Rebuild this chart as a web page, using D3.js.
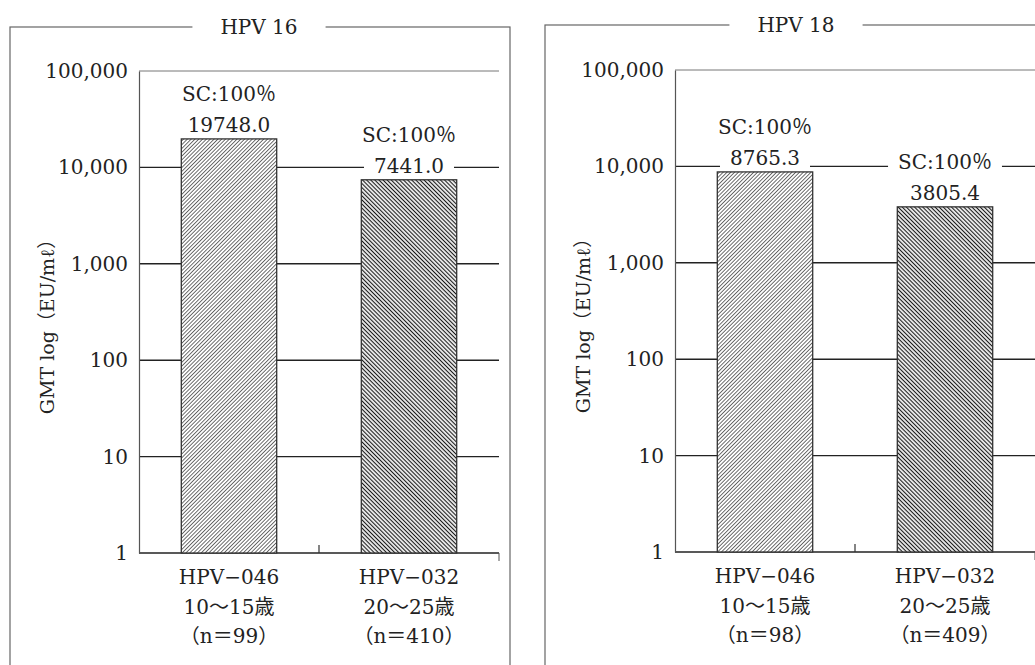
<!DOCTYPE html>
<html>
<head>
<meta charset="utf-8">
<script src="https://cdn.jsdelivr.net/npm/d3@7"></script>
<style>
body { margin: 0; background: #fff; }
text { font-family: "DejaVu Serif", "Liberation Serif", "Noto Sans CJK JP", serif; fill: #222; }
</style>
</head>
<body>
<svg id="chart" width="1035" height="665"></svg>
<script>
// Gegevens uit de figuur
const panelTitles = ['HPV 16', 'HPV 18'];
const studies = ['HPV−046', 'HPV−032'];
const ageGroups = ['10～15歳', '20～25歳'];
const nHPV16 = [99, 410];
const nHPV18 = [98, 409];
const gmtHPV16 = [19748.0, 7441.0];
const gmtHPV18 = [8765.3, 3805.4];
const scHPV16 = [100, 100];
const scHPV18 = [100, 100];
const yTicks = [1, 10, 100, 1000, 10000, 100000];
const yLabel = 'GMT log（EU/mℓ）';

const svg = d3.select('#chart');

// Arceringspatronen voor de staven (gedraaide verticale lijnen)
const defs = svg.append('defs');
const createHatch = (id, angle, spacing, color, width) => {
    const p = defs.append('pattern')
        .attr('id', id)
        .attr('patternUnits', 'userSpaceOnUse')
        .attr('width', spacing)
        .attr('height', 10)
        .attr('patternTransform', `rotate(${angle})`);
    p.append('rect').attr('width', spacing).attr('height', 10).attr('fill', '#fff');
    p.append('line')
        .attr('x1', spacing / 2).attr('x2', spacing / 2)
        .attr('y1', 0).attr('y2', 10)
        .attr('stroke', color).attr('stroke-width', width);
};
createHatch('hatchA', 45, 2.7, '#555', 0.9);
createHatch('hatchB', -45, 2.9, '#1a1a1a', 1.2);

// Deze functie tekent een volledig paneel (kader, as, staven en labels)
const drawPanel = (opt) => {
    const g = svg.append('g');

    // Kader met titel
    g.append('rect')
        .attr('x', opt.frameLeft).attr('y', opt.frameTop)
        .attr('width', opt.frameRight - opt.frameLeft).attr('height', 700)
        .attr('fill', 'none').attr('stroke', '#666').attr('stroke-width', 1.2);
    const title = g.append('text')
        .attr('x', opt.titleX).attr('y', opt.frameTop)
        .attr('dy', '0.35em')
        .attr('text-anchor', 'middle')
        .attr('font-size', 20)
        .text(opt.title);
    const tb = title.node().getBBox();
    g.insert('rect', 'text')
        .attr('x', tb.x - 28).attr('y', opt.frameTop - 3)
        .attr('width', tb.width + 56).attr('height', 6)
        .attr('fill', '#fff');

    const y = d3.scaleLog().domain([1, 100000]).range([opt.plotBottom, opt.plotTop]);
    const x = d3.scaleBand().domain(studies)
        .range([opt.plotLeft, opt.plotRight])
        .paddingInner(0.47).paddingOuter(0.235);

    // Rasterlijnen
    g.selectAll('.grid')
        .data(yTicks)
        .join('line')
        .attr('x1', opt.plotLeft).attr('x2', opt.plotRight)
        .attr('y1', d => y(d)).attr('y2', d => y(d))
        .attr('stroke', d => d === 100000 ? '#777' : '#222')
        .attr('stroke-width', d => d === 100000 ? 1 : 1.4);

    // Y-as
    const axis = d3.axisLeft(y)
        .tickValues(yTicks)
        .tickFormat(d3.format(','))
        .tickSize(0)
        .tickPadding(11);
    const ag = g.append('g')
        .attr('transform', `translate(${opt.plotLeft},0)`)
        .call(axis);
    ag.select('.domain').attr('stroke', '#555').attr('stroke-width', 1.2);
    ag.selectAll('text')
        .attr('font-size', 20)
        .attr('font-family', '"DejaVu Serif", serif')
        .attr('fill', '#222');

    // Kleine streepjes op de x-as
    const mid = (opt.plotLeft + opt.plotRight) / 2;
    g.append('line')
        .attr('x1', mid).attr('x2', mid)
        .attr('y1', opt.plotBottom - 8).attr('y2', opt.plotBottom)
        .attr('stroke', '#333').attr('stroke-width', 1.2);
    g.append('line')
        .attr('x1', opt.plotRight).attr('x2', opt.plotRight)
        .attr('y1', opt.plotBottom).attr('y2', opt.plotBottom + 8)
        .attr('stroke', '#555').attr('stroke-width', 1);

    // As-titel
    g.append('text')
        .attr('transform', `translate(${opt.yLabelX},${(opt.plotTop + opt.plotBottom) / 2 + 10}) rotate(-90)`)
        .attr('text-anchor', 'middle')
        .attr('dy', '0.35em')
        .attr('font-size', 19)
        .text(yLabel);

    // Staven
    const rows = studies.map((s, i) => ({ study: s, age: ageGroups[i], n: opt.n[i], gmt: opt.gmt[i], sc: opt.sc[i] }));
    g.selectAll('.bar')
        .data(rows)
        .join('rect')
        .attr('x', d => x(d.study))
        .attr('y', d => y(d.gmt))
        .attr('width', x.bandwidth())
        .attr('height', d => opt.plotBottom - y(d.gmt))
        .attr('fill', (d, i) => i === 0 ? 'url(#hatchA)' : 'url(#hatchB)')
        .attr('stroke', '#333')
        .attr('stroke-width', 1.3);

    // Waardelabels met witte achtergrond
    rows.forEach(d => {
        const cx = x(d.study) + x.bandwidth() / 2;
        const lines = [
            { t: `SC:${d.sc}％`, yy: y(d.gmt) - 45 },
            { t: d3.format('.1f')(d.gmt), yy: y(d.gmt) - 14 }
        ];
        lines.forEach(l => {
            const t = g.append('text')
                .attr('x', cx).attr('y', l.yy)
                .attr('dy', '0.35em')
                .attr('text-anchor', 'middle')
                .attr('font-size', 20)
                .text(l.t);
            const b = t.node().getBBox();
            g.insert('rect', () => t.node())
                .attr('x', b.x - 10).attr('y', b.y)
                .attr('width', b.width + 20).attr('height', b.height)
                .attr('fill', '#fff');
        });

        // Categorielabels onder de as
        const cat = [d.study, d.age, `（n＝${d.n}）`];
        cat.forEach((c, k) => {
            g.append('text')
                .attr('x', cx).attr('y', opt.plotBottom + 24 + k * 29.5)
                .attr('dy', '0.35em')
                .attr('text-anchor', 'middle')
                .attr('font-size', 20)
                .text(c);
        });
    });
};

drawPanel({
    title: panelTitles[0], gmt: gmtHPV16, n: nHPV16, sc: scHPV16,
    frameLeft: 10, frameRight: 510, frameTop: 27, titleX: 259,
    plotLeft: 139, plotRight: 499, plotTop: 71, plotBottom: 553, yLabelX: 47
});
drawPanel({
    title: panelTitles[1], gmt: gmtHPV18, n: nHPV18, sc: scHPV18,
    frameLeft: 545, frameRight: 1060, frameTop: 25, titleX: 796,
    plotLeft: 675, plotRight: 1035, plotTop: 70, plotBottom: 552, yLabelX: 583
});
</script>
</body>
</html>
